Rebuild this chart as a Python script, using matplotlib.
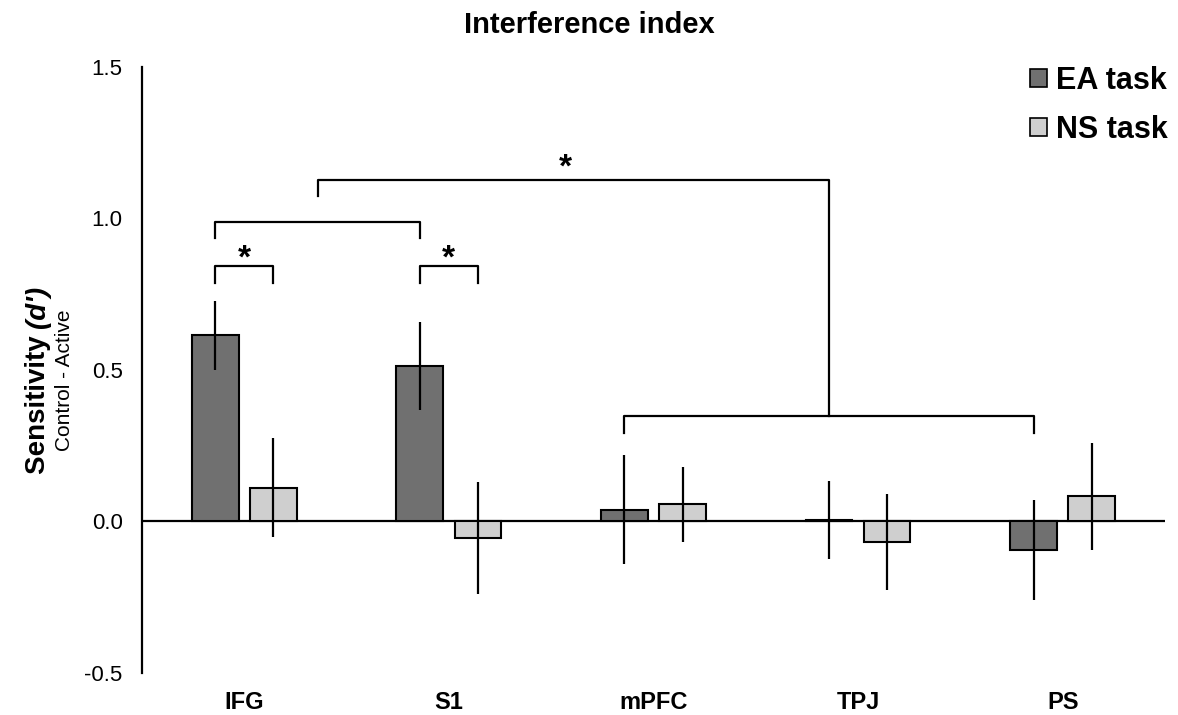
import numpy as np
import matplotlib
matplotlib.use('Agg')
import matplotlib.pyplot as plt
from matplotlib.patches import Patch

plt.rcParams['font.family'] = ['Liberation Sans', 'DejaVu Sans']

categories = ['IFG', 'S1', 'mPFC', 'TPJ', 'PS']
ea_means = [0.614, 0.513, 0.039, 0.005, -0.093]
ea_err = [0.113, 0.144, 0.181, 0.128, 0.165]
ns_means = [0.111, -0.054, 0.056, -0.068, 0.083]
ns_err = [0.163, 0.185, 0.125, 0.159, 0.177]
series_labels = ['EA task', 'NS task']

# significance brackets: (left bar, right bar, height, star)
# bars are given as (group index, series index: 0=EA, 1=NS)
brackets = [
    ((0, 0), (0, 1), 0.841, True),
    ((1, 0), (1, 1), 0.841, True),
    ((0, 0), (1, 0), 0.989, False),
    ((2, 0), (4, 0), 0.347, False),
]
top_bracket_y = 1.127

ea_color = '#707070'
ns_color = '#cfcfcf'
off = 0.142
w = 0.228
drop = 0.055

fig = plt.figure(figsize=(11.78, 7.15), dpi=100)
ax = fig.add_axes([0.1205, 0.0587, 0.8685, 0.848])

x = np.arange(len(categories))
ax.bar(x - off, ea_means, w, color=ea_color, edgecolor='black', linewidth=1.5, zorder=2)
ax.bar(x + off, ns_means, w, color=ns_color, edgecolor='black', linewidth=1.5, zorder=2)
ax.errorbar(x - off, ea_means, yerr=ea_err, fmt='none', ecolor='black', elinewidth=1.6, capsize=0, zorder=3)
ax.errorbar(x + off, ns_means, yerr=ns_err, fmt='none', ecolor='black', elinewidth=1.6, capsize=0, zorder=3)
ax.axhline(0, color='black', lw=1.6, zorder=1)


def bar_x(b):
    g, s = b
    return g - off if s == 0 else g + off


mids = []
for left, right, h, star in brackets:
    x1, x2 = bar_x(left), bar_x(right)
    ax.plot([x1, x1, x2, x2], [h - drop, h, h, h - drop], color='black', lw=1.6)
    mids.append((x1 + x2) / 2)
    if star:
        ax.text((x1 + x2) / 2, h - 0.005, '*', ha='center', va='baseline',
                fontsize=24, fontweight='bold')

# bracket joining the two comparisons
xa, xb = mids[2], mids[3]
ax.plot([xa, xa, xb, xb], [top_bracket_y - drop, top_bracket_y, top_bracket_y, brackets[3][2]],
        color='black', lw=1.6)
ax.text((xa + xb) / 2 - 0.04, top_bracket_y + 0.01, '*', ha='center', va='baseline',
        fontsize=24, fontweight='bold')

ax.set_xlim(-0.5, 4.5)
ax.set_ylim(-0.5, 1.5)
ax.set_yticks([-0.5, 0.0, 0.5, 1.0, 1.5])
ax.set_yticklabels(['-0.5', '0.0', '0.5', '1.0', '1.5'], fontsize=16)
ax.set_xticks(x)
ax.set_xticklabels(categories, fontsize=17, fontweight='bold')
ax.tick_params(axis='y', length=0, pad=14)
ax.tick_params(axis='x', length=0, pad=13)
for sp in ['top', 'right', 'bottom']:
    ax.spines[sp].set_visible(False)
ax.spines['left'].set_linewidth(1.6)

fig.text(0.5, 1 - 25 / 715, 'Interference index', ha='center', va='center',
         fontsize=21, fontweight='bold')

# y label: bold "Sensitivity (d')" with italic d', second line smaller
y0 = 1 - 328 / 715
fig.text(45 / 1178, y0, 'Sensitivity ', rotation=90, rotation_mode='anchor',
         ha='right', va='baseline', fontsize=20, fontweight='bold')
fig.text(45 / 1178, y0, "(d')", rotation=90, rotation_mode='anchor',
         ha='left', va='baseline', fontsize=20, fontweight='bold', fontstyle='italic')
fig.text(70 / 1178, 1 - 380 / 715, 'Control - Active', rotation=90, rotation_mode='anchor',
         ha='center', va='baseline', fontsize=15)

handles = [Patch(facecolor=ea_color, edgecolor='black', linewidth=1.2),
           Patch(facecolor=ns_color, edgecolor='black', linewidth=1.2)]
ax.legend(handles, series_labels, loc='upper right', bbox_to_anchor=(1168 / 1178, 1 - 66 / 715),
          bbox_transform=fig.transFigure, frameon=False, borderaxespad=0, borderpad=0,
          prop={'size': 22, 'weight': 'bold'}, handlelength=0.55, handleheight=0.55,
          handletextpad=0.3, labelspacing=0.62)

fig.savefig('out.png', dpi=100)
